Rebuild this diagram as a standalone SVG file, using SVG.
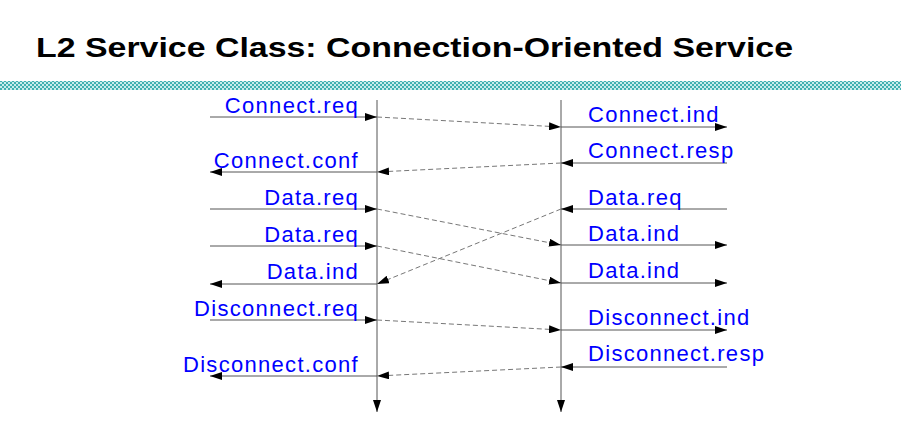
<svg xmlns="http://www.w3.org/2000/svg" width="901" height="422" viewBox="0 0 901 422">
<defs>
<pattern id="hatch" width="4" height="4" patternUnits="userSpaceOnUse"><rect width="4" height="4" fill="#c8ecec"/><rect width="2" height="2" fill="#40b0b0"/><rect x="2" y="2" width="2" height="2" fill="#40b0b0"/></pattern>
<marker id="ah" viewBox="0 0 12 8" refX="12" refY="4" markerWidth="12" markerHeight="8" markerUnits="userSpaceOnUse" orient="auto"><path d="M0,0 L12,4 L0,8 Z" fill="#000"/></marker>
</defs>
<style>
.t{font-family:"Liberation Sans",Arial,sans-serif;font-size:22px;letter-spacing:1.3px;fill:#0000ff}
.l{stroke:#777;stroke-width:1;fill:none}
.s{stroke:#555;stroke-width:1;fill:none;marker-end:url(#ah)}
.d{stroke:#777;stroke-width:1;stroke-dasharray:5,3;fill:none;marker-end:url(#ah)}
</style>
<rect width="901" height="422" fill="#fff"/>
<text x="36" y="57" font-family="Liberation Sans,Arial,sans-serif" font-size="28" font-weight="bold" textLength="757" lengthAdjust="spacingAndGlyphs">L2 Service Class: Connection-Oriented Service</text>
<rect x="0" y="81" width="901" height="9" fill="url(#hatch)"/>
<g id="lifelines">
<line class="s" x1="377" y1="100" x2="377" y2="412"/>
<line class="s" x1="561" y1="100" x2="561" y2="412"/>
</g>
<g id="connectors">
<line class="s" x1="210" y1="117" x2="377" y2="117"/>
<line class="d" x1="377" y1="117" x2="561" y2="127"/>
<line class="s" x1="561" y1="127" x2="727" y2="127"/>
<line class="s" x1="727" y1="163" x2="561" y2="163"/>
<line class="d" x1="561" y1="163" x2="377" y2="172"/>
<line class="s" x1="377" y1="172" x2="210" y2="172"/>
<line class="s" x1="210" y1="209" x2="377" y2="209"/>
<line class="d" x1="377" y1="209" x2="561" y2="245"/>
<line class="s" x1="727" y1="209" x2="561" y2="209"/>
<line class="d" x1="561" y1="209" x2="377" y2="284"/>
<line class="s" x1="210" y1="246" x2="377" y2="246"/>
<line class="d" x1="377" y1="246" x2="561" y2="283"/>
<line class="s" x1="561" y1="245" x2="727" y2="245"/>
<line class="s" x1="561" y1="283" x2="727" y2="283"/>
<line class="s" x1="377" y1="284" x2="210" y2="284"/>
<line class="s" x1="210" y1="320" x2="377" y2="320"/>
<line class="d" x1="377" y1="320" x2="561" y2="330"/>
<line class="s" x1="561" y1="330" x2="727" y2="330"/>
<line class="s" x1="727" y1="367" x2="561" y2="367"/>
<line class="d" x1="561" y1="367" x2="377" y2="376"/>
<line class="s" x1="377" y1="376" x2="210" y2="376"/>
</g>
<g id="labels-left" text-anchor="end">
<text class="t" x="359" y="113">Connect.req</text>
<text class="t" x="359" y="168">Connect.conf</text>
<text class="t" x="359" y="205">Data.req</text>
<text class="t" x="359" y="242">Data.req</text>
<text class="t" x="359" y="279">Data.ind</text>
<text class="t" x="359" y="316">Disconnect.req</text>
<text class="t" x="359" y="372">Disconnect.conf</text>
</g>
<g id="labels-right">
<text class="t" x="588" y="122">Connect.ind</text>
<text class="t" x="588" y="158">Connect.resp</text>
<text class="t" x="588" y="205">Data.req</text>
<text class="t" x="588" y="241">Data.ind</text>
<text class="t" x="588" y="278">Data.ind</text>
<text class="t" x="588" y="325">Disconnect.ind</text>
<text class="t" x="588" y="361">Disconnect.resp</text>
</g>
</svg>
